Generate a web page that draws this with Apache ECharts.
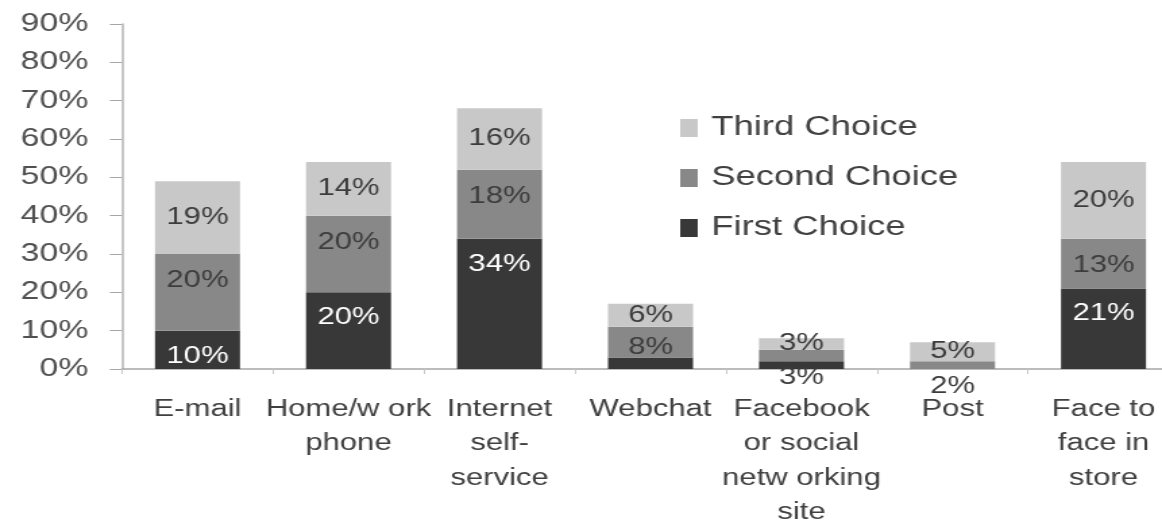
<!DOCTYPE html>
<html>
<head>
<meta charset="utf-8">
<script src="https://cdn.jsdelivr.net/npm/echarts@6/dist/echarts.min.js"></script>
<style>
  html, body { margin: 0; padding: 0; background: #ffffff; overflow: hidden; }
  /* the chart is laid out on a narrower canvas and widened to the window */
  #chart { width: 861px; height: 523px; transform: scaleX(1.3496); transform-origin: 0 0; }
</style>
</head>
<body>
<div id="chart"></div>
<script>
const categories = ['E-mail', 'Home/w ork\nphone', 'Internet\nself-\nservice', 'Webchat',
  'Facebook\nor social\nnetw orking\nsite', 'Post', 'Face to\nface in\nstore'];
const firstChoice  = [10, 20, 34, 3, 2, 0, 21];
const secondChoice = [20, 20, 18, 8, 3, 2, 13];
const thirdChoice  = [19, 14, 16, 6, 3, 5, 20];
const yTicks = [0, 10, 20, 30, 40, 50, 60, 70, 80, 90];

const FONT = 'Liberation Sans, Arial, sans-serif';

// per-bar label tweaks for the thin segments
const firstData = firstChoice.map((v, i) =>
  (i === 3 || i === 4 || i === 5) ? { value: v, label: { show: false } } : v);
const secondData = secondChoice.map((v, i) => {
  if (i === 3) return { value: v, label: { position: 'inside', offset: [0, 5] } };
  if (i === 4) return { value: v, label: { position: 'inside', offset: [0, 22] } };
  if (i === 5) return { value: v, label: { position: 'inside', offset: [0, 21] } };
  return v;
});

const chart = echarts.init(document.getElementById('chart'), null, { renderer: 'canvas' });

const labelBase = { show: true, formatter: '{c}%', fontFamily: FONT, fontSize: 23 };

chart.setOption({
  animation: false,
  backgroundColor: '#ffffff',
  grid: { left: 90.4, top: 24, width: 783.2, height: 345, containLabel: false, outerBoundsMode: 'none' },
  legend: {
    data: ['Third Choice', 'Second Choice', 'First Choice'],
    orient: 'vertical',
    left: 504,
    top: 113,
    padding: 0,
    itemWidth: 13,
    itemHeight: 18,
    itemGap: 20,
    icon: 'rect',
    textStyle: { fontFamily: FONT, fontSize: 27, color: '#404040', lineHeight: 30, padding: [0, 0, 0, 5] }
  },
  xAxis: {
    type: 'category',
    data: categories,
    axisLine: { lineStyle: { color: '#a6a6a6', width: 1.5 } },
    axisTick: { show: true, alignWithLabel: false, length: 5, lineStyle: { color: '#c8c8c8' } },
    axisLabel: { interval: 0, fontFamily: FONT, fontSize: 23, lineHeight: 34.5, color: '#404040', margin: 23 }
  },
  yAxis: {
    type: 'value',
    min: yTicks[0],
    max: yTicks[yTicks.length - 1],
    interval: yTicks[1] - yTicks[0],
    splitLine: { show: false },
    axisLine: { show: true, lineStyle: { color: '#b4b4b4', width: 1.5 } },
    axisTick: { show: true, inside: false, length: 9, lineStyle: { color: '#a6a6a6' } },
    axisLabel: { formatter: '{value}%', fontFamily: FONT, fontSize: 25, color: '#505050', margin: 25 }
  },
  series: [
    {
      name: 'First Choice', type: 'bar', stack: 'all', barWidth: 63,
      itemStyle: { color: '#383838' },
      label: Object.assign({}, labelBase, { position: 'insideTop', distance: 14, color: '#ffffff' }),
      data: firstData
    },
    {
      name: 'Second Choice', type: 'bar', stack: 'all', barWidth: 63,
      itemStyle: { color: '#888888' },
      label: Object.assign({}, labelBase, { position: 'insideTop', distance: 15, color: '#3c3c3c' }),
      data: secondData
    },
    {
      name: 'Third Choice', type: 'bar', stack: 'all', barWidth: 63,
      itemStyle: { color: '#c8c8c8' },
      label: Object.assign({}, labelBase, { position: 'inside', color: '#3c3c3c' }),
      data: thirdChoice
    }
  ]
});
</script>
</body>
</html>
